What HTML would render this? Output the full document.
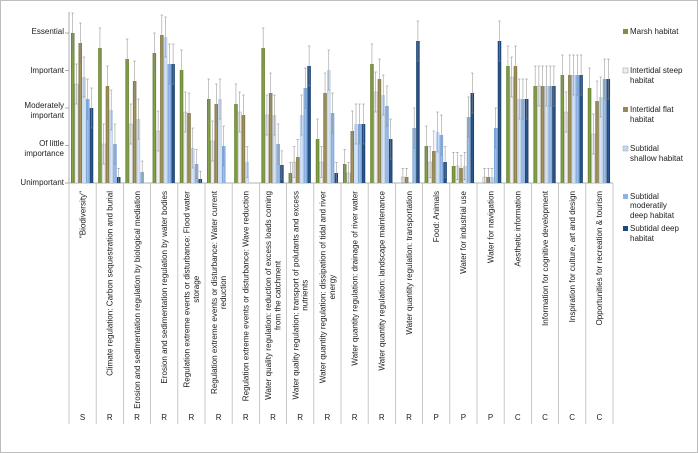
<!DOCTYPE html>
<html><head><meta charset="utf-8"><style>
body{margin:0;background:#fff}
svg{display:block;font-family:"Liberation Sans",sans-serif}
</style></head><body>
<svg id="s" width="698" height="453" viewBox="0 0 698 453">
<defs>
<linearGradient id="g0" x1="0" x2="1"><stop offset="0" stop-color="#5f7a2c"/><stop offset=".5" stop-color="#8aa84a"/><stop offset="1" stop-color="#5f7a2c"/></linearGradient>
<linearGradient id="g1" x1="0" x2="1"><stop offset="0" stop-color="#d8d8d8"/><stop offset=".5" stop-color="#f8f8f8"/><stop offset="1" stop-color="#d8d8d8"/></linearGradient>
<linearGradient id="g2" x1="0" x2="1"><stop offset="0" stop-color="#7a7040"/><stop offset=".5" stop-color="#a89c62"/><stop offset="1" stop-color="#7a7040"/></linearGradient>
<linearGradient id="g3" x1="0" x2="1"><stop offset="0" stop-color="#b5cbe8"/><stop offset=".5" stop-color="#dde8f6"/><stop offset="1" stop-color="#b5cbe8"/></linearGradient>
<linearGradient id="g4" x1="0" x2="1"><stop offset="0" stop-color="#6f9bd2"/><stop offset=".5" stop-color="#a6c4ea"/><stop offset="1" stop-color="#6f9bd2"/></linearGradient>
<linearGradient id="g5" x1="0" x2="1"><stop offset="0" stop-color="#173a66"/><stop offset=".5" stop-color="#2c5a92"/><stop offset="1" stop-color="#173a66"/></linearGradient>
</defs>
<rect x="0.5" y="0.5" width="697" height="452" fill="#fff" stroke="#bdbdbd"/>
<g font-size="8" fill="#222" text-anchor="end">
<text x="64" y="34">Essential</text>
<text x="64" y="73">Important</text>
<text x="64" y="108">Moderately</text><text x="64" y="118">important</text>
<text x="64" y="146">Of little</text><text x="64" y="156">importance</text>
<text x="64" y="185">Unimportant</text>
</g>
<g id="bars"></g>
<g id="labels" font-size="8.1" fill="#222"></g>
<g font-size="8" fill="#222">
<rect x="623" y="29" width="5" height="5" fill="#77933c"/><text x="630" y="34">Marsh habitat</text>
<rect x="623" y="68" width="5" height="5" fill="#eee" stroke="#999" stroke-width=".5"/><text x="630" y="73">Intertidal steep</text><text x="630" y="83">habitat</text>
<rect x="623" y="107" width="5" height="5" fill="#948a54"/><text x="630" y="112">Intertidal flat</text><text x="630" y="122">habitat</text>
<rect x="623" y="146" width="5" height="5" fill="#c6d9f1" stroke="#8aa" stroke-width=".5"/><text x="630" y="151">Subtidal</text><text x="630" y="161">shallow habitat</text>
<rect x="623" y="194" width="5" height="5" fill="#8db3e2"/><text x="630" y="199">Subtidal</text><text x="630" y="208">moderatily</text><text x="630" y="218">deep habitat</text>
<rect x="623" y="226" width="5" height="5" fill="#1f497d"/><text x="630" y="231">Subtidal deep</text><text x="630" y="241">habitat</text>
</g>
</svg>
<script>
var NS="http://www.w3.org/2000/svg";
function el(p,n,a,t){var e=document.createElementNS(NS,n);for(var k in a)e.setAttribute(k,a[k]);if(t)e.textContent=t;p.appendChild(e);return e;}
var B=document.getElementById('bars'),L=document.getElementById('labels');
var x0=69,w=27.2,base=183;
var tops=[
[33,84,43,77,99,108],[48,144,86,110,144,177],[59,124,81,119,172,183],[53,131,35,37,64,64],
[70,112,113,148,164,179],[99,141,104,99,146,183],[104,112,115,162,183,183],[48,115,93,115,144,165],
[173,162,157,115,88,66],[139,162,93,70,113,173],[164,173,131,124,124,124],[64,92,79,95,106,139],
[183,177,177,183,128,41],[146,162,151,132,135,162],[166,166,168,166,117,93],[183,177,177,177,128,41],
[66,77,66,99,99,99],[86,86,86,86,86,86],[75,112,75,75,75,75],[88,134,101,97,79,79]];
el(B,'line',{x1:x0,y1:12,x2:x0,y2:base,stroke:'#999','stroke-width':.8});
el(B,'line',{x1:x0,y1:base,x2:x0+20*w,y2:base,stroke:'#999','stroke-width':.8});
[33,70.5,108,145.5,183].forEach(function(y){el(B,'line',{x1:x0-4,y1:y,x2:x0,y2:y,stroke:'#999','stroke-width':.8});});
for(var i=0;i<=20;i++){var x=x0+i*w;el(B,'line',{x1:x,y1:base,x2:x,y2:424,stroke:'#bbb','stroke-width':.8});}
tops.forEach(function(c,i){c.forEach(function(t,j){
 if(t>=183)return;var x=x0+i*w+2+j*3.75;
 el(B,'rect',{x:x,y:t,width:3.5,height:base-t,fill:'url(#g'+j+')',stroke:j==1?'#aaa':'none','stroke-width':.4});
 var e=Math.min(20,(base-t)*0.45+6),cx=x+1.75;
 el(B,'line',{x1:cx,y1:Math.max(12,t-e),x2:cx,y2:Math.min(base,t+e),stroke:'#888','stroke-width':.5});
 el(B,'line',{x1:cx-1.3,y1:Math.max(12,t-e),x2:cx+1.3,y2:Math.max(12,t-e),stroke:'#888','stroke-width':.5});
 el(B,'line',{x1:cx-1.3,y1:Math.min(base,t+e),x2:cx+1.3,y2:Math.min(base,t+e),stroke:'#888','stroke-width':.5});
});});
var labs=[["\"Biodiversity\""],["Climate regulation: Carbon sequestration and burial"],["Erosion and sedimentation regulation by biological mediation"],["Erosion and sedimentation regulation by water bodies"],["Regulation extreme events or disturbance: Flood water","storage"],["Regulation extreme events or disturbance: Water current","reduction"],["Regulation extreme events or disturbance: Wave reduction"],["Water quality regulation: reduction of excess loads coming","from the catchment"],["Water quality regulation: transport of polutants and excess","nutrients"],["Water quantity regulation: dissipation of tidal and river","energy"],["Water quantity regulation: drainage of river water"],["Water quantity regulation: landscape maintenance"],["Water quantity regulation: transportation"],["Food: Animals"],["Water for industrial use"],["Water for navigation"],["Aesthetic information"],["Information for cognitive development"],["Inspiration for culture, art and design"],["Opportunities for recreation & tourism"]];
var let="SRRRRRRRRRRRRPPPCCCC";
labs.forEach(function(l,i){var cx=x0+i*w+w/2;
 var n=l.length,first=null;
 l.forEach(function(s,k){var xx=cx+2.8+(k-(n-1)/2)*9.2;
  var g=el(L,'g',{transform:'translate('+xx+',191) rotate(-90)'});
  var t=el(g,'text',{x:0,y:0,'text-anchor':'end'},s);
  if(k==0)first=t.getComputedTextLength();
  else{t.setAttribute('text-anchor','middle');t.setAttribute('x',-first/2);}
 });
 el(L,'text',{x:cx,y:420,'text-anchor':'middle','font-size':8},let[i]);
});
</script>
</body></html>
